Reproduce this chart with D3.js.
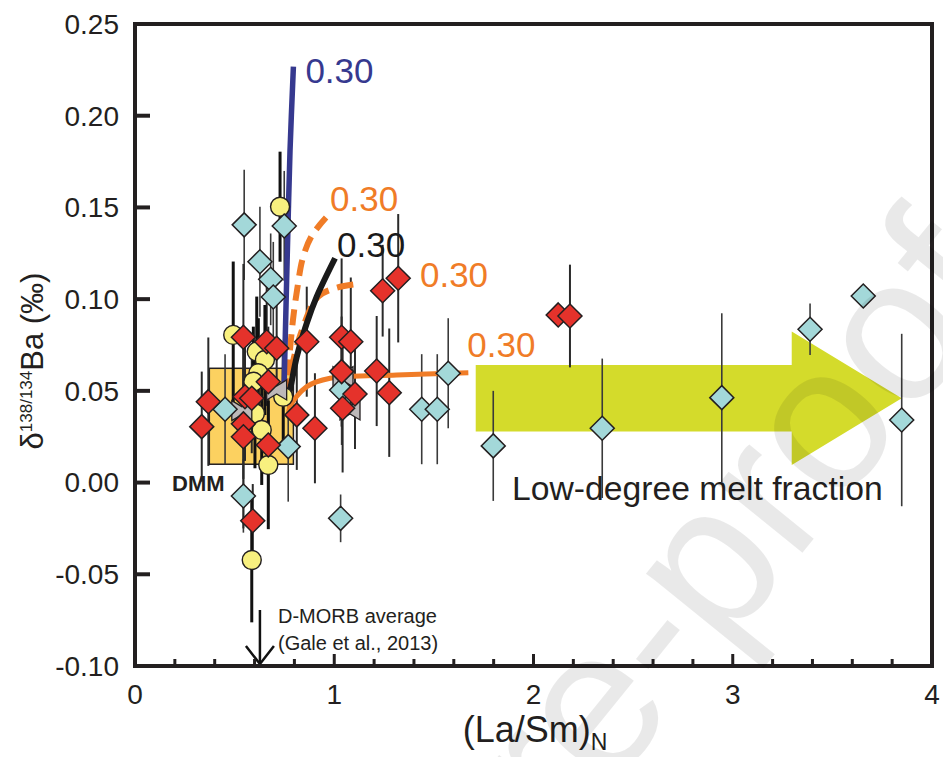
<!DOCTYPE html>
<html>
<head>
<meta charset="utf-8">
<script src="https://cdn.jsdelivr.net/npm/d3@7"></script>
<style>
body { margin: 0; background: #fff; }
svg { display: block; font-family: Arial, "Liberation Sans", sans-serif; }
</style>
</head>
<body>
<div id="chart"></div>
<script>
// axis ticks
const xTicks = [0, 1, 2, 3, 4];
const xMinorTicks = d3.range(0, 4.01, 0.2);
const yTicks = [-0.10, -0.05, 0.00, 0.05, 0.10, 0.15, 0.20, 0.25];

// red diamonds
const redX = [0.544, 0.661, 0.711, 0.862, 1.037, 1.083, 1.243, 1.321, 0.669, 0.552, 0.586, 1.037, 1.213, 1.104, 1.276, 1.042, 0.812, 0.903, 0.368, 0.335, 0.544, 0.544, 0.669, 0.591, 2.124, 2.183];
const redY = [0.0792, 0.0768, 0.0732, 0.0768, 0.0792, 0.0768, 0.1046, 0.1114, 0.055, 0.0468, 0.046, 0.0605, 0.0608, 0.0483, 0.049, 0.0405, 0.0369, 0.0296, 0.0441, 0.0305, 0.032, 0.025, 0.0205, -0.0208, 0.0914, 0.0908];
const redErr = [0.04, 0.035, 0.03, 0.03, 0.043, 0.035, 0.025, 0.035, 0.03, 0.035, 0.03, 0.03, 0.03, 0.03, 0.035, 0.035, 0.03, 0.03, 0.035, 0.03, 0.03, 0.05, 0.03, 0.02, 0, 0.028];

// cyan diamonds
const cyanX = [0.548, 0.749, 0.627, 0.681, 0.694, 0.452, 0.769, 0.544, 1.032, 1.037, 1.439, 1.517, 1.572, 1.798, 2.345, 2.945, 3.388, 3.655, 3.848];
const cyanY = [0.1405, 0.1399, 0.1204, 0.1108, 0.1012, 0.040, 0.0196, -0.0073, -0.0195, 0.0505, 0.040, 0.040, 0.0596, 0.020, 0.0296, 0.0463, 0.0836, 0.1017, 0.0341];
const cyanErr = [0.03, 0.03, 0.03, 0.025, 0.03, 0.03, 0.03, 0.02, 0.013, 0.03, 0.03, 0.03, 0.03, 0.03, 0.038, 0.046, 0.014, 0, 0.047];

// yellow circles
const yellowX = [0.728, 0.493, 0.611, 0.652, 0.619, 0.594, 0.744, 0.602, 0.636, 0.669, 0.586];
const yellowY = [0.1504, 0.0805, 0.0714, 0.0668, 0.0596, 0.055, 0.0468, 0.0378, 0.0287, 0.0096, -0.0422];
const yellowErr = [0.03, 0.04, 0.03, 0.03, 0.03, 0.03, 0.03, 0.03, 0.03, 0.035, 0.034];

// grey bowties
const greyX = [0.711, 0.536, 1.079, 1.044];
const greyY = [0.0505, 0.0392, 0.0396, 0.0577];

// DMM box
const dmmX = [0.373, 0.795];
const dmmY = [0.010, 0.0623];

// melting model curves (F = 0.30 at the end)
const blueX = [0.745, 0.749, 0.753, 0.761, 0.769, 0.778, 0.795];
const blueY = [0.045, 0.056, 0.074, 0.110, 0.145, 0.181, 0.2268];
const dash1X = [0.757, 0.763, 0.793, 0.813, 0.843, 0.888, 0.959];
const dash1Y = [0.045, 0.054, 0.0888, 0.1047, 0.1227, 0.1347, 0.1445];
const blackX = [0.765, 0.778, 0.812, 0.862, 0.912, 1.004];
const blackY = [0.045, 0.0505, 0.0686, 0.0869, 0.1014, 0.1223];
const dash2X = [0.765, 0.778, 0.838, 0.918, 1.004, 1.114];
const dash2Y = [0.048, 0.0586, 0.0831, 0.1012, 0.106, 0.1082];
const solidX = [0.770, 0.778, 0.862, 0.979, 1.313, 1.673];
const solidY = [0.036, 0.0414, 0.0523, 0.0569, 0.0587, 0.0599];

// big arrow outline
const arrowX = [1.71, 3.296, 3.296, 3.848, 3.296, 3.296, 1.71];
const arrowY = [0.0641, 0.0641, 0.0823, 0.046, 0.0096, 0.0278, 0.0278];

const width = 943;
const height = 757;

var svg = d3.select("#chart")
    .append("svg")
    .attr("width", width)
    .attr("height", height);

// scales
var x = d3.scaleLinear().domain([0, 4]).range([135, 932]);
var y = d3.scaleLinear().domain([-0.10, 0.25]).range([666, 24]);

// DMM box
svg.append("rect")
    .attr("x", x(dmmX[0]))
    .attr("y", y(dmmY[1]))
    .attr("width", x(dmmX[1]) - x(dmmX[0]))
    .attr("height", y(dmmY[0]) - y(dmmY[1]))
    .attr("fill", "#fcd160")
    .attr("stroke", "#231f20")
    .attr("stroke-width", 1.5);

// yellow-green arrow
svg.append("path")
    .attr("d", d3.line().x(function(d){return x(d[0]);}).y(function(d){return y(d[1]);})(d3.zip(arrowX, arrowY)) + "Z")
    .attr("fill", "#d4db2b");

// error bars
function errorBars(xs, ys, es, color, w) {
    svg.append("g")
        .selectAll("line")
        .data(d3.range(xs.length).filter(function(i){return es[i] > 0;}))
        .enter()
        .append("line")
        .attr("x1", function(i){return x(xs[i]);})
        .attr("x2", function(i){return x(xs[i]);})
        .attr("y1", function(i){return y(ys[i] + es[i]);})
        .attr("y2", function(i){return y(ys[i] - es[i]);})
        .attr("stroke", color)
        .attr("stroke-width", w);
}
errorBars(cyanX, cyanY, cyanErr, "#3a3a3a", 1.6);
errorBars(redX, redY, redErr, "#2a2a2a", 2);
errorBars(yellowX, yellowY, yellowErr, "#111", 3);

// model curves
var curve = d3.line()
    .x(function(d){return x(d[0]);})
    .y(function(d){return y(d[1]);})
    .curve(d3.curveCatmullRom);

function drawCurve(xs, ys, color, w, dash) {
    svg.append("path")
        .attr("d", curve(d3.zip(xs, ys)))
        .attr("fill", "none")
        .attr("stroke", color)
        .attr("stroke-width", w)
        .attr("stroke-dasharray", dash);
}
drawCurve(solidX, solidY, "#f07c27", 5, null);
drawCurve(dash2X, dash2Y, "#f07c27", 6, "16,9");
drawCurve(dash1X, dash1Y, "#f07c27", 6, "16,9");
drawCurve(blackX, blackY, "#1a1a1a", 6, null);
drawCurve(blueX, blueY, "#36398f", 5.5, null);

// curve labels, placed beside each curve's end
function curveLabel(xs, ys, color, dx, dy) {
    var n = xs.length - 1;
    svg.append("text")
        .attr("x", x(xs[n]) + dx)
        .attr("y", y(ys[n]) + dy)
        .attr("fill", color)
        .attr("font-size", 35)
        .text("0.30");
}
curveLabel(blueX, blueY, "#36398f", 12, 16);
curveLabel(dash1X, dash1Y, "#f07c27", 4, -7);
curveLabel(blackX, blackY, "#1a1a1a", 2, -1);
curveLabel(dash2X, dash2Y, "#f07c27", 63, 3);
curveLabel(solidX, solidY, "#f07c27", -1, -16);

// markers
svg.append("g")
    .selectAll("circle")
    .data(d3.range(yellowX.length))
    .enter()
    .append("circle")
    .attr("cx", function(i){return x(yellowX[i]);})
    .attr("cy", function(i){return y(yellowY[i]);})
    .attr("r", 9.5)
    .attr("fill", "#f8f07f")
    .attr("stroke", "#231f20")
    .attr("stroke-width", 1.4);

svg.append("g")
    .selectAll("path")
    .data(d3.range(greyX.length))
    .enter()
    .append("path")
    .attr("d", "M-10,-10L0,-4L10,-10L10,10L0,4L-10,10Z")
    .attr("transform", function(i){return "translate(" + x(greyX[i]) + "," + y(greyY[i]) + ")";})
    .attr("fill", "#bdb9b9")
    .attr("stroke", "#231f20")
    .attr("stroke-width", 1.3);

function diamonds(xs, ys, fill) {
    svg.append("g")
        .selectAll("path")
        .data(d3.range(xs.length))
        .enter()
        .append("path")
        .attr("d", "M0,-12L12,0L0,12L-12,0Z")
        .attr("transform", function(i){return "translate(" + x(xs[i]) + "," + y(ys[i]) + ")";})
        .attr("fill", fill)
        .attr("stroke", "#231f20")
        .attr("stroke-width", 1.5);
}
diamonds(cyanX, cyanY, "#a3d8d9");
diamonds(redX, redY, "#e5322b");

// annotations
svg.append("text")
    .attr("x", 172)
    .attr("y", 491)
    .attr("font-size", 22)
    .attr("font-weight", "bold")
    .attr("fill", "#231f20")
    .text("DMM");

svg.append("text")
    .attr("x", x(1.892))
    .attr("y", 500)
    .attr("font-size", 33.7)
    .attr("fill", "#231f20")
    .text("Low-degree melt fraction");

// D-MORB average arrow
var ax = x(0.627);
svg.append("line")
    .attr("x1", ax).attr("x2", ax)
    .attr("y1", 610).attr("y2", 663)
    .attr("stroke", "#111").attr("stroke-width", 2.5);
svg.append("path")
    .attr("d", "M" + (ax - 14) + ",646L" + ax + ",664L" + (ax + 14) + ",646")
    .attr("fill", "none").attr("stroke", "#111").attr("stroke-width", 2.5);
svg.append("text")
    .attr("x", 278).attr("y", 623)
    .attr("font-size", 20).attr("fill", "#231f20")
    .text("D-MORB average");
svg.append("text")
    .attr("x", 278).attr("y", 650)
    .attr("font-size", 20).attr("fill", "#231f20")
    .text("(Gale et al., 2013)");

// frame and ticks
svg.append("rect")
    .attr("x", 135).attr("y", 24)
    .attr("width", 932 - 135).attr("height", 666 - 24)
    .attr("fill", "none")
    .attr("stroke", "#231f20")
    .attr("stroke-width", 4);

svg.append("g")
    .selectAll("line")
    .data(yTicks)
    .enter().append("line")
    .attr("x1", 135).attr("x2", 150)
    .attr("y1", function(d){return y(d);})
    .attr("y2", function(d){return y(d);})
    .attr("stroke", "#231f20").attr("stroke-width", 4);

svg.append("g")
    .selectAll("line")
    .data(xMinorTicks)
    .enter().append("line")
    .attr("x1", function(d){return x(d);})
    .attr("x2", function(d){return x(d);})
    .attr("y1", 666)
    .attr("y2", function(d){return Math.abs(d - Math.round(d)) < 1e-6 ? 654 : 659;})
    .attr("stroke", "#231f20").attr("stroke-width", 3);

svg.append("g")
    .selectAll("text")
    .data(yTicks)
    .enter().append("text")
    .attr("x", 119)
    .attr("y", function(d){return y(d);})
    .attr("dy", "0.35em")
    .attr("text-anchor", "end")
    .attr("font-size", 28)
    .attr("fill", "#231f20")
    .text(function(d){return d3.format(".2f")(d).replace("\u2212", "-");});

svg.append("g")
    .selectAll("text")
    .data(xTicks)
    .enter().append("text")
    .attr("x", function(d){return x(d);})
    .attr("y", 704)
    .attr("text-anchor", "middle")
    .attr("font-size", 28)
    .attr("fill", "#231f20")
    .text(function(d){return d;});

// axis titles
var xt = svg.append("text")
    .attr("x", 535).attr("y", 742)
    .attr("text-anchor", "middle")
    .attr("font-size", 36)
    .attr("fill", "#231f20");
xt.append("tspan").text("(La/Sm)");
xt.append("tspan").attr("font-size", 23).attr("dy", 8).text("N");

var yt = svg.append("text")
    .attr("transform", "translate(43,361) rotate(-90)")
    .attr("text-anchor", "middle")
    .attr("font-size", 31)
    .attr("fill", "#231f20");
yt.append("tspan").text("δ");
yt.append("tspan").attr("font-size", 17).attr("dy", -11).text("138/134");
yt.append("tspan").attr("dy", 11).text("Ba (‰)");

// watermark
svg.append("text")
    .attr("transform", "translate(564,847) rotate(-51)")
    .attr("font-size", 205)
    .attr("fill", "#000")
    .attr("fill-opacity", 0.085)
    .text("re-proof");
</script>
</body>
</html>
